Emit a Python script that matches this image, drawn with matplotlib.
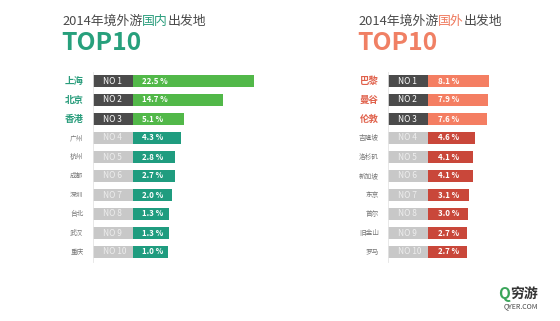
import matplotlib
matplotlib.use('Agg')
import matplotlib.pyplot as plt
import numpy as np

plt.rcParams['font.family'] = ['Noto Sans CJK SC', 'DejaVu Sans']

ranks = np.arange(1, 11)
rank_labels = [f'NO {r}' for r in ranks]
domestic_cities = ['上海', '北京', '香港', '广州', '杭州', '成都', '深圳', '台北', '武汉', '重庆']
domestic_share = [22.5, 14.7, 5.1, 4.3, 2.8, 2.7, 2.0, 1.3, 1.3, 1.0]
foreign_cities = ['巴黎', '曼谷', '伦敦', '吉隆坡', '洛杉矶', '新加坡', '东京', '首尔', '旧金山', '罗马']
foreign_share = [8.1, 7.9, 7.6, 4.6, 4.1, 4.1, 3.1, 3.0, 2.7, 2.7]

W, H = 560, 321
PX = 4.0          # pixels per percentage point
BOX = 10.0        # width of the "NO x" box, in percentage units

fig = plt.figure(figsize=(W / 100, H / 100), dpi=100)
fig.patch.set_facecolor('white')


def add_ax(x, y, w, h):
    return fig.add_axes([x / W, 1 - (y + h) / H, w / W, h / H])


def draw_panel(x0, cities, shares, pad, xmax, top_color, rest_color, label_color):
    width = (xmax + pad + BOX) * PX
    ax = add_ax(x0, 71.5, width, 190)
    ax.set_xlim(-(pad + BOX), xmax)
    ax.set_ylim(10.5, 0.5)
    for s in ['top', 'right', 'bottom']:
        ax.spines[s].set_visible(False)
    ax.spines['left'].set_color('#e4e4e4')
    ax.spines['left'].set_linewidth(0.6)
    ax.set_xticks([])
    ax.set_yticks([])
    ax.patch.set_alpha(0)

    top = ranks <= 3
    box_colors = np.where(top, '#4b4b4b', '#c8c8c8')
    bar_colors = np.where(top, top_color, rest_color)
    vals = np.array(shares)

    ax.barh(ranks, BOX, left=-(pad + BOX), height=0.64, color=box_colors)
    ax.barh(ranks, vals + pad, left=-pad, height=0.64, color=bar_colors)

    for r, city, v, lab in zip(ranks, cities, vals, rank_labels):
        big = r <= 3
        ax.text(-(pad + BOX) - 2.4, r, city, ha='right', va='center',
                fontsize=6.8 if big else 4.8,
                fontweight='bold' if big else 'normal',
                color=label_color if big else '#777777')
        ax.text(-(pad + BOX) + 2.4, r, lab, ha='left', va='center',
                fontsize=6.0, color='white' if big else '#eeeeee')
        ax.text(-pad + 2.3, r, f'{v:.1f} %', ha='left', va='center',
                fontsize=5.7, fontweight='bold', color='white')
    return ax


ax_l = draw_panel(93, domestic_cities, domestic_share, 7.75, 25,
                  '#52b849', '#1f9c7f', '#2a9d7c')
ax_r = draw_panel(388.3, foreign_cities, foreign_share, 7.0, 12,
                  '#f47e62', '#c9473a', '#e0604a')


def title(ax, x, word, word_color, big_color):
    t1 = fig.text(x / W, 1 - 21 / H, '2014年境外游', fontsize=9.3,
                  color='#4a4a4a', va='center', ha='left')
    t2 = ax.annotate(word, xy=(1, 0), xycoords=t1, va='bottom', ha='left',
                     fontsize=9.3, color=word_color, annotation_clip=False)
    ax.annotate('出发地', xy=(1, 0), xycoords=t2, va='bottom', ha='left',
                fontsize=9.3, color='#4a4a4a', annotation_clip=False)
    fig.text((x - 1) / W, 1 - 43 / H, 'TOP10', fontsize=17.8,
             fontweight='bold', color=big_color, va='center', ha='left')


title(ax_l, 62, '国内', '#2a9d7c', '#27a07c')
title(ax_r, 358, '国外', '#ef7a5e', '#f08064')

# logo
q = fig.text(498 / W, 1 - 294 / H, 'Q', fontsize=11, fontweight='bold',
             color='#3aa55a', va='center', ha='left')
ax_r.annotate('穷游', xy=(1, 0), xycoords=q, va='bottom', ha='left',
              fontsize=10, fontweight='bold', color='#333333',
              annotation_clip=False)
fig.text(521 / W, 1 - 306 / H, 'QYER.COM', fontsize=5, color='#444444',
         va='center', ha='center')

fig.savefig('out.png', dpi=100, facecolor='white')
